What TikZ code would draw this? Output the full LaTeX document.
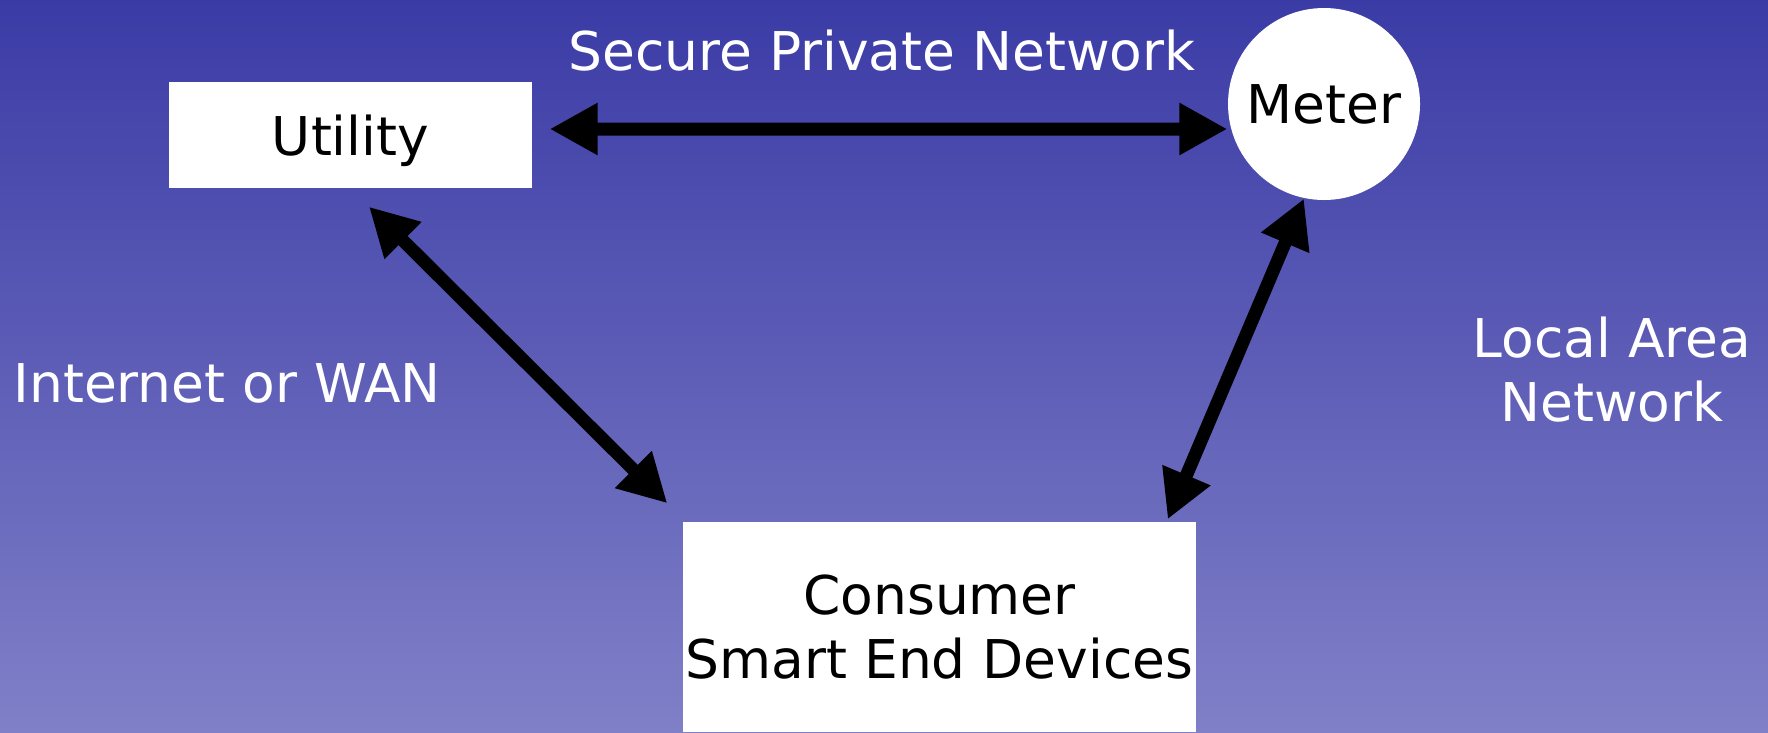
\documentclass[tikz,border=0pt]{standalone}
\usepackage{fontspec}
\setmainfont{DejaVu Sans}
\usetikzlibrary{positioning, calc, arrows.meta}

\definecolor{bgtop}{RGB}{59,59,166}
\definecolor{bgbottom}{RGB}{128,128,200}

\begin{document}
\begin{tikzpicture}[
    every node/.style={font=\fontsize{15.2pt}{18.2pt}\selectfont},
    box/.style={fill=white, inner sep=0pt, align=center},
    link/.style={line width=0.13cm,
        {Triangle[length=0.48cm,width=0.49cm]}-{Triangle[length=0.48cm,width=0.49cm]}},
    netlabel/.style={text=white, align=center}
]
    % Draw background
    \shade[top color=bgtop, bottom color=bgbottom] (0,0) rectangle (17.68,7.32);
    \useasboundingbox (0,0) rectangle (17.68,7.32);

    % Draw the three parties
    \node[box, minimum width=3.63cm, minimum height=1.06cm, text depth=0pt] (utility) at (3.505,5.97) {Utility};
    \node[box, circle, minimum size=1.92cm] (meter) at (13.24,6.28) {Meter};
    \node[box, minimum width=5.13cm, minimum height=2.10cm] (consumer) at (9.395,1.05) {Consumer\\Smart End Devices};

    % Draw links between them
    \draw[link] ($(utility.east)+(0.17,0.06)$) -- ($(meter.west)+(0,-0.25)$);
    \draw[link] ($(utility.south)+(0.185,-0.18)$) -- ($(consumer.north west)+(-0.15,0.18)$);
    \draw[link] (meter.258) -- ($(consumer.north east)+(-0.29,0.02)$);

    % Add network labels
    \node[netlabel] (spn) at (8.82,6.81) {Secure Private Network};
    \node[netlabel] (wan) at (2.27,3.49) {Internet or WAN};
    \node[netlabel] (lan) at (16.12,3.62) {Local Area\\Network};
\end{tikzpicture}
\end{document}
